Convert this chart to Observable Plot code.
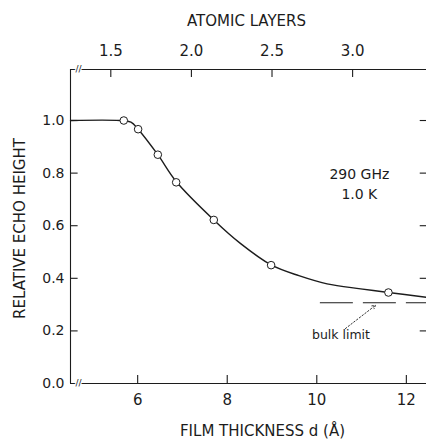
<!DOCTYPE html>
<html>
<head>
<meta charset="utf-8">
<script src="https://cdn.jsdelivr.net/npm/d3@7"></script>
<script src="https://cdn.jsdelivr.net/npm/@observablehq/plot@0.6"></script>
<style>
  html, body { margin: 0; padding: 0; background: #fff; }
  #chart svg { display: block; }
</style>
</head>
<body>
<div id="chart"></div>
<script>
// Measured data points (film thickness in Å, relative echo height)
const thickness = [5.69, 6.01, 6.45, 6.86, 7.70, 8.98, 11.6];
const echo      = [1.00, 0.967, 0.870, 0.765, 0.622, 0.450, 0.346];

// Hand-drawn guide curve
const curveD = [4.5, 5.6, 5.85, 6.01, 6.45, 6.86, 7.70, 8.30, 8.98, 9.6, 10.23, 10.98, 11.6, 12.45];
const curveY = [1.0, 1.0, 0.994, 0.967, 0.870, 0.768, 0.622, 0.532, 0.451, 0.410, 0.379, 0.360, 0.346, 0.328];

// Bulk limit
const bulkLimit = 0.307;
const bulkStart = 10.08;

// Axes
const xTicks = [6, 8, 10, 12];
const yTicks = [0.0, 0.2, 0.4, 0.6, 0.8, 1.0];
const layerTicks = [1.5, 2.0, 2.5, 3.0];
const angstromPerLayer = 3.6;

const xMin = 4.5, xMax = 12.45, yMax = 1.194;
const ink = "#1c1c1c";
const font = "DejaVu Sans";

const points = thickness.map((d, i) => ({d, e: echo[i]}));
const curve = curveD.map((d, i) => ({d, e: curveY[i]}));
const layerPos = layerTicks.map(l => ({x: l * angstromPerLayer, label: l.toFixed(1)}));

const chart = Plot.plot({
  width: 426,
  height: 440,
  marginLeft: 70,
  marginRight: 0,
  marginTop: 69,
  marginBottom: 57,
  style: {fontFamily: font, color: ink, background: "#fff"},
  x: {domain: [xMin, xMax]},
  y: {domain: [0, yMax]},
  marks: [
    // frame lines
    Plot.ruleX([xMin], {y1: 0, y2: yMax, stroke: ink, strokeWidth: 1.1}),
    Plot.ruleY([0], {x1: xMin, x2: xMax, stroke: ink, strokeWidth: 1.1}),
    Plot.ruleY([yMax], {x1: xMin, x2: xMax, stroke: ink, strokeWidth: 1.1}),
    // inward ticks
    Plot.ruleX(xTicks, {y1: 0, y2: 0.03, stroke: ink, strokeWidth: 1.1}),
    Plot.ruleX(layerPos, {x: "x", y1: yMax, y2: yMax - 0.03, stroke: ink, strokeWidth: 1.1}),
    Plot.ruleY(yTicks.filter(v => v > 0), {y: d => d, x1: xMin, x2: xMin + 0.17, stroke: ink, strokeWidth: 1.1}),
    Plot.ruleY(yTicks.filter(v => v > 0), {y: d => d, x1: xMax - 0.14, x2: xMax, stroke: ink, strokeWidth: 1.1}),
    // axis break marks
    Plot.text([{x: 4.68, y: 0}, {x: 4.68, y: yMax}], {x: "x", y: "y", text: () => "//", fontSize: 9, fill: ink, stroke: "#fff", strokeWidth: 2.5, paintOrder: "stroke"}),
    // tick labels
    Plot.axisX({ticks: xTicks, tickSize: 0, tickPadding: 11, fontSize: 15, label: null, tickFormat: d => String(d), fill: ink}),
    Plot.axisY({ticks: yTicks, tickSize: 0, tickPadding: 6, fontSize: 14, label: null, tickFormat: d => d.toFixed(1), fill: ink}),
    Plot.text(layerPos, {x: "x", y: yMax, text: "label", dy: -14, lineAnchor: "bottom", fontSize: 15, fill: ink}),
    // axis titles
    Plot.text(["ATOMIC LAYERS"], {frameAnchor: "top", dx: -2, dy: -44, lineAnchor: "bottom", fontSize: 15, fill: ink}),
    Plot.text(["FILM THICKNESS d (Å)"], {frameAnchor: "bottom", dx: 14, dy: 52, lineAnchor: "bottom", fontSize: 15, fill: ink, style: "letter-spacing:0.75px"}),
    Plot.text(["RELATIVE ECHO HEIGHT"], {frameAnchor: "left", textAnchor: "middle", dx: -50, dy: 2, rotate: -90, fontSize: 15, fill: ink, style: "letter-spacing:0.3px"}),
    // bulk limit
    Plot.ruleY([{y: bulkLimit, x1: bulkStart, x2: xMax}], {y: "y", x1: "x1", x2: "x2", stroke: ink, strokeWidth: 1.2, strokeDasharray: "33,10"}),
    Plot.arrow([{x1: 10.64, y1: 0.209, x2: 11.31, y2: 0.297}], {x1: "x1", y1: "y1", x2: "x2", y2: "y2", stroke: ink, strokeWidth: 0.9, strokeDasharray: "1.5,2", headLength: 6}),
    Plot.text(["bulk limit"], {x: 10.54, y: 0.17, lineAnchor: "bottom", fontSize: 12.5, fill: ink}),
    // condition labels
    Plot.text(["290 GHz"], {x: 10.95, y: 0.777, lineAnchor: "bottom", fontSize: 14, fill: ink}),
    Plot.text(["1.0 K"], {x: 10.95, y: 0.7, lineAnchor: "bottom", fontSize: 14, fill: ink}),
    // curve and points
    Plot.line(curve, {x: "d", y: "e", curve: "catmull-rom", stroke: ink, strokeWidth: 1.4}),
    Plot.dot(points, {x: "d", y: "e", r: 3.8, fill: "#fff", stroke: ink, strokeWidth: 1})
  ]
});
document.getElementById("chart").appendChild(chart);
</script>
</body>
</html>
